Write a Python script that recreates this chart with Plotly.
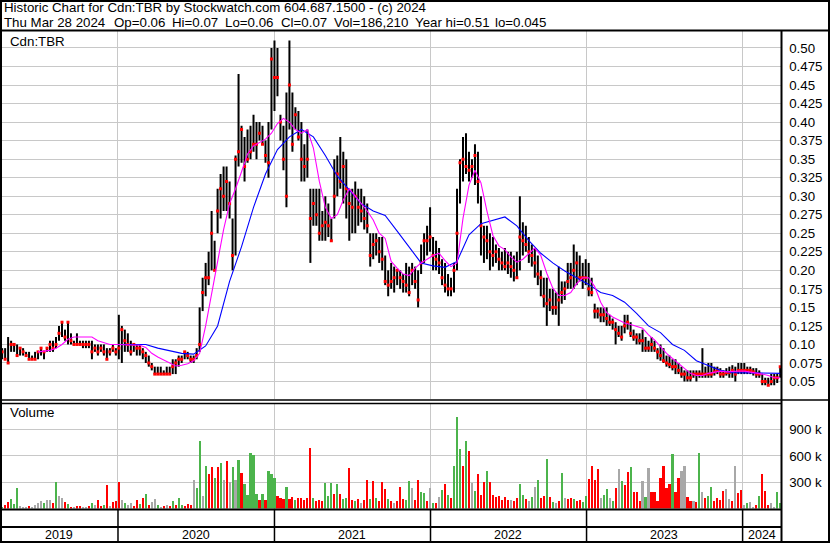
import pandas as pd
import plotly.graph_objects as go

W, H = 830, 543


def px(x):
    return x / W


def py(y):
    return 1 - y / H


# ---------------- data (weekly) ----------------
week_dates = pd.date_range("2019-04-05", periods=261, freq="W-FRI")

price_high = [
    0.095, 0.095, 0.11, 0.105, 0.10, 0.10, 0.095, 0.095, 0.09, 0.09,
    0.085, 0.09, 0.09, 0.095, 0.09, 0.095, 0.105, 0.105, 0.11, 0.125,
    0.13, 0.12, 0.13, 0.115, 0.105, 0.115, 0.105, 0.105, 0.105, 0.105,
    0.105, 0.10, 0.10, 0.10, 0.10, 0.095, 0.095, 0.10, 0.095, 0.14,
    0.125, 0.12, 0.115, 0.105, 0.10, 0.10, 0.10, 0.095, 0.09, 0.085,
    0.075, 0.07, 0.07, 0.07, 0.065, 0.07, 0.07, 0.08, 0.08, 0.085,
    0.085, 0.09, 0.09, 0.085, 0.085, 0.095,
    0.15, 0.19, 0.21, 0.225, 0.28, 0.24, 0.31, 0.33, 0.34, 0.34,
    0.32, 0.27, 0.355, 0.465, 0.395, 0.38, 0.39, 0.395, 0.41, 0.40,
    0.40, 0.395, 0.375, 0.40, 0.50, 0.51, 0.50, 0.41, 0.395, 0.44,
    0.51, 0.44, 0.42, 0.415, 0.40, 0.37, 0.39, 0.31, 0.31, 0.31,
    0.31, 0.28, 0.30, 0.29, 0.27, 0.35, 0.355, 0.38, 0.36, 0.35,
    0.31, 0.31, 0.32, 0.31, 0.31, 0.30, 0.29, 0.25, 0.25, 0.25,
    0.245, 0.245, 0.22, 0.20, 0.21,
    0.205, 0.20, 0.20, 0.195, 0.21, 0.205, 0.21, 0.205, 0.20, 0.235,
    0.25, 0.26, 0.285, 0.245, 0.24, 0.23, 0.215, 0.21, 0.195, 0.19,
    0.21, 0.31, 0.35, 0.38, 0.385, 0.36, 0.35, 0.37, 0.36, 0.30,
    0.26, 0.26, 0.25, 0.245, 0.235, 0.23, 0.225, 0.23, 0.225, 0.225,
    0.22, 0.225, 0.30, 0.265, 0.26, 0.245, 0.235, 0.23, 0.22, 0.20,
    0.19, 0.19, 0.175, 0.175, 0.17, 0.205, 0.185, 0.185, 0.21, 0.21,
    0.235, 0.225, 0.22, 0.21, 0.215,
    0.21, 0.19, 0.155, 0.15, 0.15, 0.15, 0.15, 0.14, 0.135, 0.13,
    0.125, 0.125, 0.14, 0.14, 0.13, 0.12, 0.115, 0.115, 0.12, 0.11,
    0.105, 0.11, 0.105, 0.095, 0.10, 0.095, 0.085, 0.085, 0.08, 0.08,
    0.075, 0.07, 0.065, 0.065, 0.065, 0.065, 0.065, 0.065, 0.095, 0.07,
    0.075, 0.075, 0.07, 0.07, 0.068, 0.065, 0.068, 0.07, 0.072, 0.07,
    0.075, 0.075, 0.075, 0.07, 0.07, 0.068, 0.068, 0.065, 0.06, 0.055,
    0.055, 0.06, 0.06, 0.06, 0.07,
]

price_low = [
    0.08, 0.08, 0.075, 0.09, 0.09, 0.085, 0.085, 0.085, 0.085, 0.08,
    0.08, 0.08, 0.08, 0.085, 0.08, 0.09, 0.09, 0.09, 0.095, 0.105,
    0.11, 0.105, 0.10, 0.10, 0.10, 0.10, 0.10, 0.095, 0.095, 0.095,
    0.08, 0.09, 0.085, 0.09, 0.085, 0.08, 0.085, 0.09, 0.085, 0.08,
    0.075, 0.09, 0.09, 0.085, 0.09, 0.085, 0.085, 0.08, 0.075, 0.07,
    0.065, 0.06, 0.06, 0.06, 0.06, 0.06, 0.06, 0.06, 0.06, 0.07,
    0.075, 0.08, 0.08, 0.075, 0.075, 0.08,
    0.09, 0.145, 0.165, 0.18, 0.20, 0.20, 0.25, 0.27, 0.28, 0.28,
    0.27, 0.20, 0.22, 0.34, 0.345, 0.32, 0.345, 0.35, 0.36, 0.35,
    0.375, 0.37, 0.345, 0.325, 0.39, 0.415, 0.435, 0.375, 0.335, 0.285,
    0.39, 0.36, 0.39, 0.375, 0.32, 0.32, 0.325, 0.21, 0.26, 0.26,
    0.24, 0.24, 0.24, 0.245, 0.24, 0.27, 0.30, 0.31, 0.29, 0.27,
    0.24, 0.25, 0.25, 0.26, 0.265, 0.255, 0.25, 0.205, 0.215, 0.22,
    0.21, 0.20, 0.18, 0.165, 0.175,
    0.17, 0.18, 0.175, 0.17, 0.17, 0.165, 0.18, 0.175, 0.15, 0.195,
    0.21, 0.22, 0.225, 0.20, 0.20, 0.195, 0.18, 0.17, 0.165, 0.165,
    0.17, 0.20, 0.29, 0.32, 0.33, 0.32, 0.325, 0.315, 0.29, 0.22,
    0.21, 0.215, 0.20, 0.205, 0.21, 0.20, 0.20, 0.20, 0.195, 0.19,
    0.185, 0.19, 0.20, 0.22, 0.225, 0.21, 0.205, 0.19, 0.18, 0.165,
    0.15, 0.125, 0.145, 0.14, 0.14, 0.125, 0.155, 0.16, 0.175, 0.175,
    0.175, 0.18, 0.185, 0.175, 0.18,
    0.165, 0.165, 0.135, 0.135, 0.13, 0.13, 0.125, 0.125, 0.12, 0.10,
    0.11, 0.105, 0.115, 0.12, 0.11, 0.105, 0.10, 0.10, 0.09, 0.09,
    0.09, 0.09, 0.09, 0.08, 0.078, 0.075, 0.07, 0.068, 0.065, 0.06,
    0.06, 0.055, 0.05, 0.05, 0.05, 0.055, 0.05, 0.055, 0.055, 0.055,
    0.055, 0.055, 0.058, 0.06, 0.055, 0.055, 0.058, 0.055, 0.055, 0.05,
    0.06, 0.06, 0.06, 0.06, 0.06, 0.058, 0.055, 0.055, 0.045, 0.045,
    0.045, 0.045, 0.045, 0.048, 0.055,
]

price_close = [
    0.09, 0.08, 0.075, 0.10, 0.10, 0.085, 0.095, 0.09, 0.085, 0.08,
    0.08, 0.08, 0.09, 0.095, 0.09, 0.095, 0.10, 0.095, 0.10, 0.115,
    0.13, 0.11, 0.13, 0.105, 0.10, 0.10, 0.10, 0.10, 0.10, 0.10,
    0.09, 0.095, 0.09, 0.095, 0.09, 0.08, 0.09, 0.095, 0.09, 0.095,
    0.12, 0.105, 0.10, 0.09, 0.10, 0.095, 0.095, 0.09, 0.085, 0.075,
    0.07, 0.06, 0.06, 0.06, 0.06, 0.06, 0.06, 0.07, 0.075, 0.08,
    0.08, 0.09, 0.085, 0.08, 0.08, 0.085,
    0.10, 0.17, 0.19, 0.19, 0.25, 0.20, 0.28, 0.31, 0.30, 0.32,
    0.29, 0.22, 0.35, 0.36, 0.39, 0.34, 0.35, 0.36, 0.37, 0.37,
    0.385, 0.37, 0.355, 0.345, 0.485, 0.46, 0.46, 0.40, 0.35, 0.30,
    0.45, 0.37, 0.41, 0.38, 0.35, 0.34, 0.35, 0.27, 0.29, 0.275,
    0.25, 0.26, 0.265, 0.26, 0.24, 0.30, 0.33, 0.32, 0.34, 0.31,
    0.29, 0.285, 0.30, 0.285, 0.28, 0.27, 0.26, 0.22, 0.235, 0.24,
    0.225, 0.215, 0.185, 0.18, 0.185,
    0.19, 0.20, 0.19, 0.185, 0.18, 0.17, 0.20, 0.185, 0.16, 0.21,
    0.24, 0.24, 0.245, 0.22, 0.215, 0.21, 0.19, 0.18, 0.175, 0.175,
    0.20, 0.25, 0.345, 0.35, 0.34, 0.335, 0.34, 0.355, 0.32, 0.26,
    0.245, 0.24, 0.225, 0.22, 0.225, 0.215, 0.21, 0.205, 0.21, 0.205,
    0.20, 0.19, 0.245, 0.24, 0.235, 0.225, 0.22, 0.21, 0.195, 0.19,
    0.165, 0.155, 0.16, 0.15, 0.15, 0.16, 0.17, 0.175, 0.185, 0.19,
    0.20, 0.21, 0.19, 0.19, 0.19,
    0.175, 0.17, 0.145, 0.145, 0.14, 0.14, 0.135, 0.13, 0.13, 0.12,
    0.115, 0.11, 0.125, 0.13, 0.115, 0.11, 0.11, 0.105, 0.105, 0.095,
    0.095, 0.10, 0.095, 0.09, 0.085, 0.078, 0.075, 0.073, 0.07, 0.07,
    0.065, 0.06, 0.06, 0.055, 0.055, 0.06, 0.06, 0.06, 0.06, 0.06,
    0.06, 0.06, 0.063, 0.065, 0.06, 0.06, 0.062, 0.062, 0.065, 0.06,
    0.065, 0.065, 0.065, 0.065, 0.065, 0.063, 0.06, 0.06, 0.05, 0.05,
    0.045, 0.05, 0.055, 0.055, 0.07,
]

# weekly volume (thousands of shares) and direction of the day (u=up, d=down, n=unchanged)
volume_k = [
    20, 40, 70, 110, 50, 230, 30, 20, 15, 25,
    20, 40, 60, 80, 60, 100, 100, 60, 300, 140,
    120, 70, 50, 20, 15, 25, 30, 20, 15, 30,
    60, 40, 100, 30, 40, 270, 30, 70, 90, 300,
    100, 60, 40, 60, 30, 100, 50, 120, 170, 40,
    70, 110, 40, 20, 30, 40, 30, 90, 40, 120,
    40, 30, 50, 40, 330, 230, 770, 140, 480, 390,
    470, 350, 470, 520, 330, 540, 300, 470, 330, 550,
    410, 280, 150, 630, 610, 170, 100, 170, 100, 430,
    390, 345, 140, 120, 110, 240, 110, 130, 100, 120,
    120, 100, 120, 690, 120, 80, 100, 80, 290, 140,
    290, 170, 275, 170, 110, 120, 460, 100, 80, 110,
    60, 100, 320, 110, 310, 120, 80, 305, 220, 110,
    80, 60, 90, 250, 110, 100, 310, 230, 100, 320,
    190, 180, 90, 230, 60, 60, 130, 210, 280, 150,
    120, 490, 1040, 680, 490, 770, 660, 290, 200, 390,
    150, 300, 430, 300, 150, 130, 140, 100, 130, 100,
    100, 80, 120, 280, 150, 110, 80, 130, 240, 320,
    120, 140, 570, 130, 70, 60, 80, 400, 120, 110,
    120, 110, 80, 100, 70, 140, 340, 490, 330, 450,
    120, 150, 220, 120, 90, 230, 450, 310, 270, 420,
    470, 190, 190, 90, 310, 130, 460, 190, 190, 90,
    350, 490, 230, 280, 620, 190, 350, 430, 490, 130,
    90, 80, 70, 630, 190, 120, 140, 250, 80, 120,
    100, 200, 220, 110, 90, 480, 180, 210, 40, 60,
    70, 20, 40, 145, 390, 200, 40, 60, 20, 190,
    60,
]

volume_dir = (
    "udduuunnnd"  # 0-9
    "nnnnunndun"  # 10-19
    "ndudnddnnd"  # 20-29
    "unddudnddd"  # 30-39
    "nunnddudud"  # 40-49
    "nnundndudu"  # 50-59
    "udddnuunud"  # 60-69
    "dudundnunu"  # 70-79
    "duuuuududu"  # 80-89
    "uudddudd" "ud"  # 90-99
    "ddddudddu" "u"  # 100-109
    "ududuudd" "ud"  # 110-119
    "nddududddu"  # 120-129
    "dndddu" "undd"  # 130-139
    "uudnudnudu"  # 140-149
    "duuududnud"  # 150-159
    "ddudddddd" "d"  # 160-169
    "nddu" "udnun" "u"  # 170-179
    "ddudundund"  # 180-189
    "duddu" "uddd" "d"  # 190-199
    "nuunudnudd"  # 200-209
    "udddnundd" "d"  # 210-219
    "dddduddnnd"  # 220-229
    "dndundu" "udd"  # 230-239
    "ddnndndd" "nu"  # 240-249
    "nnduddd" "nnu"  # 250-259
    "u"  # 260
)

# moving averages (fast: every 2nd week from week 12, slow: every 4th week from week 36)
ma_fast = [
    0.09, 0.091, 0.092, 0.095, 0.10, 0.107, 0.11, 0.11, 0.11, 0.11,
    0.105, 0.102, 0.10, 0.10, 0.10, 0.10, 0.10, 0.099, 0.096, 0.088,
    0.083, 0.079, 0.075, 0.071, 0.072, 0.074, 0.078, 0.088, 0.125, 0.17,
    0.21, 0.255, 0.29, 0.31, 0.333, 0.357, 0.368, 0.373, 0.377, 0.385,
    0.398, 0.405, 0.40, 0.39, 0.385, 0.39, 0.365, 0.32, 0.285, 0.27,
    0.275, 0.295, 0.31, 0.30, 0.29, 0.28, 0.268, 0.25, 0.243, 0.212,
    0.203, 0.195, 0.193, 0.203, 0.21, 0.215, 0.22, 0.223, 0.213, 0.205,
    0.21, 0.27, 0.315, 0.335, 0.318, 0.28, 0.247, 0.233, 0.228, 0.218,
    0.211, 0.215, 0.223, 0.23, 0.22, 0.196, 0.176, 0.166, 0.166, 0.17,
    0.182, 0.19, 0.19, 0.178, 0.157, 0.143, 0.137, 0.133, 0.129, 0.127,
    0.125, 0.122, 0.113, 0.106, 0.097, 0.088, 0.081, 0.074, 0.068, 0.061,
    0.058, 0.058, 0.061, 0.063, 0.064, 0.063, 0.064, 0.064, 0.064, 0.063,
    0.062, 0.06, 0.058, 0.055, 0.055,
]
ma_slow = [
    0.10, 0.10, 0.10, 0.10, 0.095, 0.091, 0.088, 0.087, 0.098, 0.125,
    0.185, 0.232, 0.285, 0.33, 0.363, 0.38, 0.39, 0.38, 0.355, 0.327,
    0.308, 0.29, 0.28, 0.274, 0.253, 0.232, 0.21, 0.206, 0.204, 0.212,
    0.248, 0.263, 0.267, 0.272, 0.26, 0.24, 0.223, 0.21, 0.199, 0.19,
    0.181, 0.17, 0.166, 0.157, 0.142, 0.125, 0.116, 0.10, 0.092, 0.078,
    0.071, 0.065, 0.062, 0.062, 0.062, 0.061, 0.061,
]
ma_fast_dates = week_dates[12::2]
ma_slow_dates = week_dates[36::4]

price_tick_vals = [0.05, 0.075, 0.10, 0.125, 0.15, 0.175, 0.20, 0.225, 0.25, 0.275,
                   0.30, 0.325, 0.35, 0.375, 0.40, 0.425, 0.45, 0.475, 0.50]
price_tick_text = ["0.05", "0.075", "0.10", "0.125", "0.15", "0.175", "0.20", "0.225", "0.25", "0.275",
                   "0.30", "0.325", "0.35", "0.375", "0.40", "0.425", "0.45", "0.475", "0.50"]
vol_tick_vals = [300000, 600000, 900000]
vol_tick_text = ["300 k", "600 k", "900 k"]
year_starts = ["2020-01-01", "2021-01-01", "2022-01-01", "2023-01-01", "2024-01-01"]
year_labels = ["2019", "2020", "2021", "2022", "2023", "2024"]
year_label_dates = ["2019-08-16", "2020-07-02", "2021-07-02", "2022-07-02", "2023-07-02", "2024-02-15"]

header_line1 = "Historic Chart for Cdn:TBR by Stockwatch.com 604.687.1500 - (c) 2024"
header_fields = ["Thu Mar 28 2024", "Op=0.06", "Hi=0.07", "Lo=0.06", "Cl=0.07",
                 "Vol=186,210", "Year hi=0.51", "lo=0.045"]
header_field_x = [2, 112, 170, 223, 279, 332, 413, 493]

assert len(price_high) == len(price_low) == len(price_close) == len(volume_k) == len(week_dates)
assert len(volume_dir) == len(week_dates), len(volume_dir)
assert len(ma_fast) == len(ma_fast_dates) and len(ma_slow) == len(ma_slow_dates)

# ---------------- figure ----------------
FONT = "Liberation Sans, Arial, sans-serif"
FS = 13.3
GRID = "#c8c8c8"
X_RANGE = ["2019-03-31", "2024-04-01"]
X_RIGHT = 781.5 / W

dir_colors = {"u": "#4cb44c", "d": "#ff0000", "n": "#a8a8a8"}

fig = go.Figure()

fig.add_trace(go.Bar(
    x=week_dates, y=[v * 1000 for v in volume_k],
    marker=dict(color=[dir_colors[c] for c in volume_dir], line=dict(width=0)),
    width=5 * 86400000, xaxis="x2", yaxis="y2", hoverinfo="skip",
))

hl_x, hl_y = [], []
for d, h, l in zip(week_dates, price_high, price_low):
    hl_x += [d, d, None]
    hl_y += [l, h, None]
fig.add_trace(go.Scatter(x=hl_x, y=hl_y, mode="lines",
                         line=dict(color="black", width=2), hoverinfo="skip"))
fig.add_trace(go.Scatter(x=week_dates, y=price_close, mode="markers",
                         marker=dict(symbol="square", size=3, color="#ff0000", line=dict(width=0))))
fig.add_trace(go.Scatter(x=ma_slow_dates, y=ma_slow, mode="lines",
                         line=dict(color="#0000ff", width=1.1)))
fig.add_trace(go.Scatter(x=ma_fast_dates, y=ma_fast, mode="lines",
                         line=dict(color="#ff00ff", width=1.1)))

axis_common = dict(type="date", range=X_RANGE, domain=[0, X_RIGHT], tickvals=year_starts,
                   showticklabels=False, showgrid=True, gridcolor=GRID, gridwidth=1,
                   zeroline=False, showline=False, ticks="", fixedrange=True)

fig.update_layout(
    width=W, height=H, autosize=False,
    margin=dict(l=0, r=0, t=0, b=0, pad=0),
    paper_bgcolor="white", plot_bgcolor="white",
    showlegend=False,
    font=dict(family=FONT, size=FS, color="black"),
    xaxis=dict(anchor="y", **axis_common),
    xaxis2=dict(anchor="y2", matches="x", **axis_common),
    yaxis=dict(domain=[py(399), py(31)], range=[0.02639, 0.52288], side="right", anchor="x",
               tickvals=price_tick_vals, ticktext=price_tick_text, showgrid=True, gridcolor=GRID,
               gridwidth=1, zeroline=False, showline=False, ticks="outside", ticklen=4,
               tickcolor="rgba(0,0,0,0)", tickfont=dict(size=FS, color="black", family=FONT),
               automargin=False, fixedrange=True),
    yaxis2=dict(domain=[py(508.5), py(403)], range=[0, 1203000], side="right", anchor="x2",
                tickvals=vol_tick_vals, ticktext=vol_tick_text, showgrid=True, gridcolor=GRID,
                gridwidth=1, zeroline=False, showline=False, ticks="outside", ticklen=4,
                tickcolor="rgba(0,0,0,0)", tickfont=dict(size=FS, color="black", family=FONT),
                automargin=False, fixedrange=True),
    bargap=0,
)

shapes = []


def hline(y, x0, x1, w):
    shapes.append(dict(type="line", xref="paper", yref="paper", x0=px(x0), x1=px(x1),
                       y0=py(y), y1=py(y), line=dict(color="black", width=w)))


def vline(x, y0, y1, w):
    shapes.append(dict(type="line", xref="paper", yref="paper", x0=px(x), x1=px(x),
                       y0=py(y0), y1=py(y1), line=dict(color="black", width=w)))


hline(30.5, 0, W, 2)          # header separator
hline(400, 0, W, 1.5)         # price / volume separator (double line)
hline(403.5, 0, 781.5, 1.5)
hline(509.5, 0, 781.5, 2)     # bottom of volume panel
hline(527, 0, 781.5, 2)       # date rows separator
vline(781.5, 31, H, 2)        # right axis line
shapes.append(dict(type="rect", xref="paper", yref="paper", x0=0, y0=0, x1=1, y1=1,
                   line=dict(color="black", width=4)))
for ys in year_starts:
    shapes.append(dict(type="line", xref="x", yref="paper", x0=ys, x1=ys,
                       y0=py(509.5), y1=py(542), line=dict(color="black", width=1.5)))

txt_font = dict(size=FS, family=FONT, color="black")
annotations = [
    dict(text=header_line1, xref="paper", yref="paper", x=px(2), y=py(8), xanchor="left",
         yanchor="middle", showarrow=False, font=txt_font),
    dict(text="Cdn:TBR", xref="paper", yref="paper", x=px(8), y=py(41), xanchor="left",
         yanchor="middle", showarrow=False, font=txt_font),
    dict(text="Volume", xref="paper", yref="paper", x=px(8), y=py(413), xanchor="left",
         yanchor="middle", showarrow=False, font=txt_font),
]
for t, xx in zip(header_fields, header_field_x):
    annotations.append(dict(text=t, xref="paper", yref="paper", x=px(xx), y=py(22.5),
                            xanchor="left", yanchor="middle", showarrow=False, font=txt_font))
for lab, d in zip(year_labels, year_label_dates):
    annotations.append(dict(text=lab, xref="x", yref="paper", x=d, y=py(535), xanchor="center",
                            yanchor="middle", showarrow=False,
                            font=dict(size=12.5, family=FONT, color="black")))

fig.update_layout(shapes=shapes, annotations=annotations)

fig.write_html("out.html", config={"displayModeBar": False, "staticPlot": True},
               post_script="document.body.style.margin='0';document.body.style.overflow='hidden';")
